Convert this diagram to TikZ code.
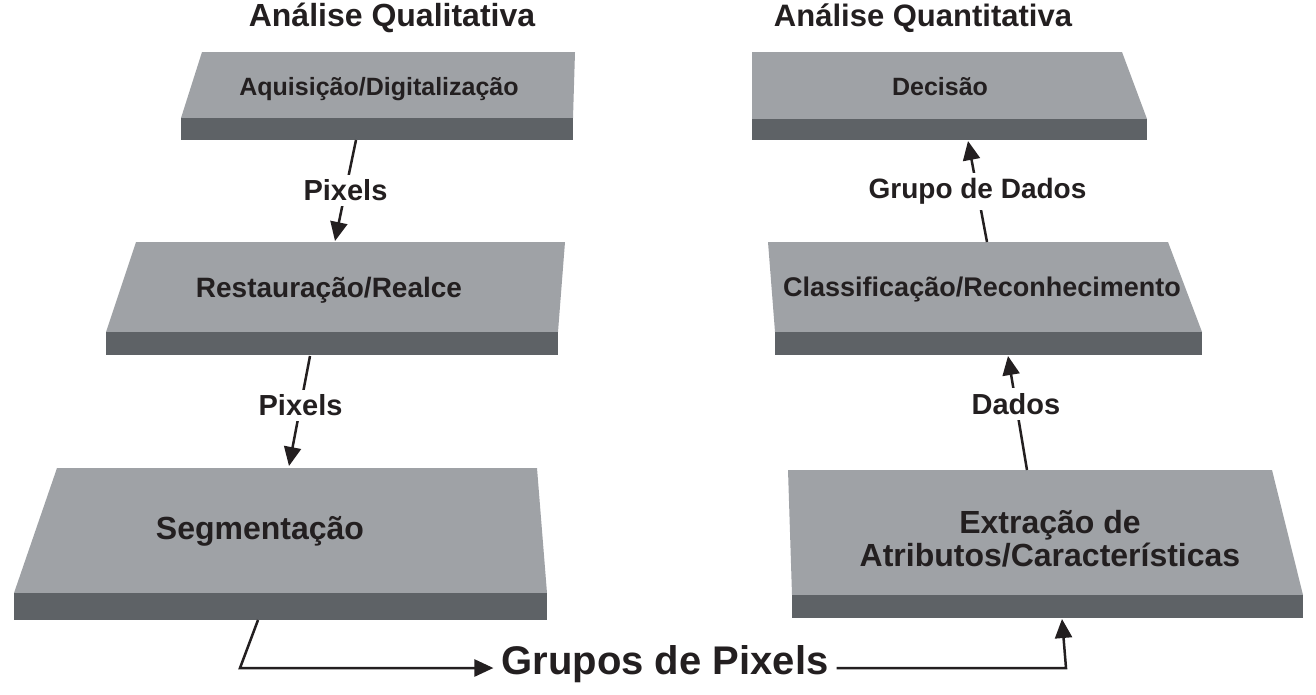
\documentclass[tikz,border=0pt]{standalone}
\usepackage{fontspec}
\setmainfont{Liberation Sans}
\usetikzlibrary{arrows.meta}
\definecolor{topgray}{HTML}{9FA2A6}
\definecolor{frontgray}{HTML}{5E6266}
\definecolor{ink}{HTML}{231F20}
\begin{document}
\begin{tikzpicture}[x=1pt,y=-1pt,
  topface/.style={fill=topgray},
  frontface/.style={fill=frontgray},
  lbl/.style={text=ink, inner sep=0pt, align=center},
  conlbl/.style={text=ink, fill=white, inner xsep=2pt, inner ysep=5pt, font=\bfseries\fontsize{29}{34}\selectfont},
  arr/.style={draw=ink, line width=2.5pt, -{Triangle[length=19pt,width=17pt]}},
  plainline/.style={draw=ink, line width=2.5pt}]
\useasboundingbox (0,0) rectangle (1316,694);

% --- slabs, left column
\fill[topface] (202,52) -- (575,52) -- (573,118) -- (181,118) -- cycle;
\fill[frontface] (181,118) rectangle (573,140);
\fill[topface] (136,242) -- (565,242) -- (558,332) -- (106,332) -- cycle;
\fill[frontface] (106,332) rectangle (558,355);
\fill[topface] (57,468) -- (537,468) -- (547,593) -- (14,593) -- cycle;
\fill[frontface] (14,593) rectangle (547,620);

% --- slabs, right column
\fill[topface] (752,52) -- (1122,52) -- (1147,119) -- (752,119) -- cycle;
\fill[frontface] (752,119) rectangle (1147,140);
\fill[topface] (768,242) -- (1168,242) -- (1202,332) -- (775,332) -- cycle;
\fill[frontface] (775,332) rectangle (1202,355);
\fill[topface] (788,470) -- (1272,470) -- (1303,595) -- (792,595) -- cycle;
\fill[frontface] (792,595) rectangle (1303,618);

% --- titles
\node[lbl, font=\bfseries\fontsize{32}{36}\selectfont] (t1) at (392,18) {Análise Qualitativa};
\node[lbl, font=\bfseries\fontsize{31}{36}\selectfont] (t2) at (923,18) {Análise Quantitativa};

% --- box texts
\node[lbl, font=\bfseries\fontsize{25}{30}\selectfont] (tA) at (379,89) {Aquisição/Digitalização};
\node[lbl, font=\bfseries\fontsize{28}{33}\selectfont] (tR) at (329,290) {Restauração/Realce};
\node[lbl, font=\bfseries\fontsize{32}{36}\selectfont] (tS) at (260,531) {Segmentação};
\node[lbl, font=\bfseries\fontsize{25}{30}\selectfont] (tD) at (940,87) {Decisão};
\node[lbl, font=\bfseries\fontsize{27}{32}\selectfont] (tC) at (982,290) {Classificação/Reconhecimento};
\node[lbl, font=\bfseries\fontsize{32}{33}\selectfont] (tE) at (1050,539) {Extração de\\Atributos/Características};

% --- connector end points
\coordinate (A1) at (356,140);
\coordinate (R0) at (335,241);
\coordinate (R1) at (310,356);
\coordinate (S0) at (289,466);
\coordinate (S1) at (258,620);
\coordinate (g1) at (240,668);
\coordinate (g2) at (1066,668);
\coordinate (E0) at (1062,619);
\coordinate (E1) at (1027,470);
\coordinate (C0) at (1008,356);
\coordinate (C1) at (987,242);
\coordinate (D0) at (968,141);

% --- connectors
\draw[arr] (A1) -- node[conlbl] (p1) {Pixels} (R0);
\draw[arr] (R1) -- node[conlbl, pos=0.45] (p2) {Pixels} (S0);
\draw[arr] (E1) -- node[conlbl, pos=0.58] (dd) {Dados} (C0);
\draw[arr] (C1) -- node[conlbl, font=\bfseries\fontsize{28}{33}\selectfont] (gd) {Grupo de Dados} (D0);

\node[lbl, inner xsep=8pt, font=\bfseries\fontsize{40}{46}\selectfont] (gp) at (665,664) {Grupos de Pixels};
\draw[arr] (S1) -- (g1) -- (g1 -| gp.west);
\draw[arr] (g2 -| gp.east) -- (g2) -- (E0);
\end{tikzpicture}
\end{document}
